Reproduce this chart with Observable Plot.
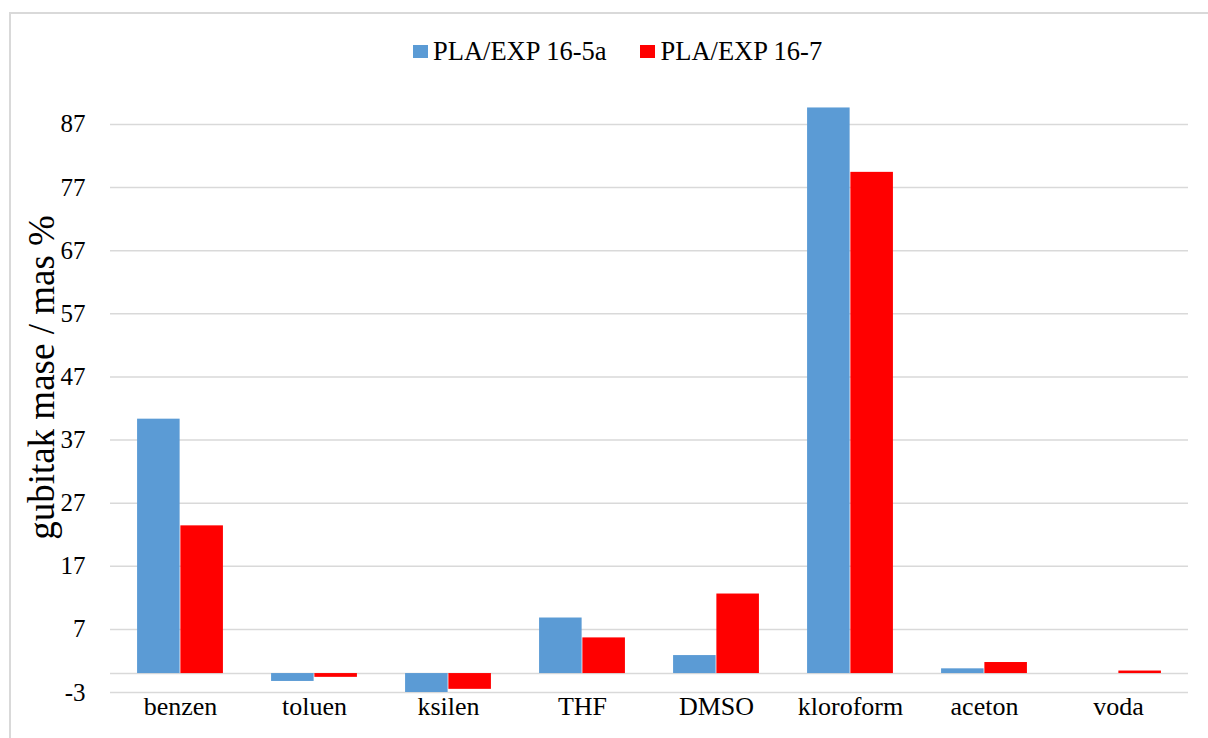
<!DOCTYPE html>
<html><head><meta charset="utf-8">
<script src="https://cdn.jsdelivr.net/npm/d3@7"></script>
<script src="https://cdn.jsdelivr.net/npm/@observablehq/plot@0.6"></script>
<style>
body{margin:0;background:#fff;}
#wrap{position:relative;width:1208px;height:738px;overflow:hidden;font-family:'Liberation Serif', serif;}
#chart{position:absolute;left:0;top:0;}
#frame{position:absolute;left:9px;top:12px;width:1300px;height:800px;border:2px solid #d9d9d9;box-sizing:border-box;pointer-events:none;}
#legend{position:absolute;top:36px;left:413px;display:flex;align-items:center;font-family:'Liberation Serif', serif;font-size:26.5px;color:#000;white-space:nowrap;}
.sw{display:inline-block;width:15px;height:13px;margin-right:5px;}
.item{display:flex;align-items:center;font-family:'Liberation Serif', serif;}
</style></head>
<body><div id="wrap"><div id="chart"></div><div id="frame"></div><div id="legend"></div></div>
<script>
const categories = ["benzen","toluen","ksilen","THF","DMSO","kloroform","aceton","voda"];
const series = ["PLA/EXP 16-5a","PLA/EXP 16-7"];
const valuesA = [40.3,-1.25,-3.0,8.8,2.85,89.6,0.75,0];
const valuesB = [23.4,-0.6,-2.5,5.65,12.6,79.4,1.75,0.4];
const yTicks = [-3,7,17,27,37,47,57,67,77,87];
const colors = ["#5b9bd5","#ff0000"];
const yLabel = "gubitak mase / mas %";

const rows = categories.map((c,i)=>({category:c, a:valuesA[i], b:valuesB[i]}));

const W = 1208, H = 738, mL = 110, mR = 20, mT = 86, mB = 46;
const bw = (W - mL - mR) / categories.length;
const outer = (bw - 2*43.3) / 2;
const FF = "Liberation Serif";

const plot = Plot.plot({
  width: W, height: H,
  marginLeft: mL, marginRight: mR, marginTop: mT, marginBottom: mB,
  style: {fontFamily: FF, color: "#000", background: "transparent"},
  x: {domain: categories, padding: 0, label: null},
  y: {domain: [-3, 93], label: null},
  marks: [
    Plot.ruleY(yTicks, {stroke: "#d9d9d9", strokeWidth: 1.5}),
    Plot.ruleY([0], {stroke: "#d9d9d9", strokeWidth: 1.5}),
    Plot.barY(rows, {x: "category", y: "a", fill: colors[0], insetLeft: outer, insetRight: bw/2}),
    Plot.barY(rows, {x: "category", y: "b", fill: colors[1], insetLeft: bw/2, insetRight: outer}),
    Plot.axisX({tickSize: 0, tickPadding: 4, fontSize: 26, fontFamily: FF, fill: "#000", label: null}),
    Plot.axisY({ticks: yTicks, tickFormat: d => String(d), tickSize: 0, tickPadding: 25, fontSize: 25, fontFamily: FF, fill: "#000", label: null}),
    Plot.text([yLabel], {frameAnchor: "left", textAnchor: "middle", dx: -68, dy: -12, rotate: -90, fontSize: 37, fontFamily: FF, fill: "#000"})
  ]
});
document.getElementById("chart").appendChild(plot);

const leg = document.getElementById("legend");
series.forEach((s,i)=>{
  const it = document.createElement("span");
  it.className = "item";
  if (i>0) it.style.marginLeft = "34px";
  const sw = document.createElement("span");
  sw.className = "sw"; sw.style.background = colors[i];
  it.appendChild(sw);
  it.appendChild(document.createTextNode(s));
  leg.appendChild(it);
});
</script>
</body></html>
